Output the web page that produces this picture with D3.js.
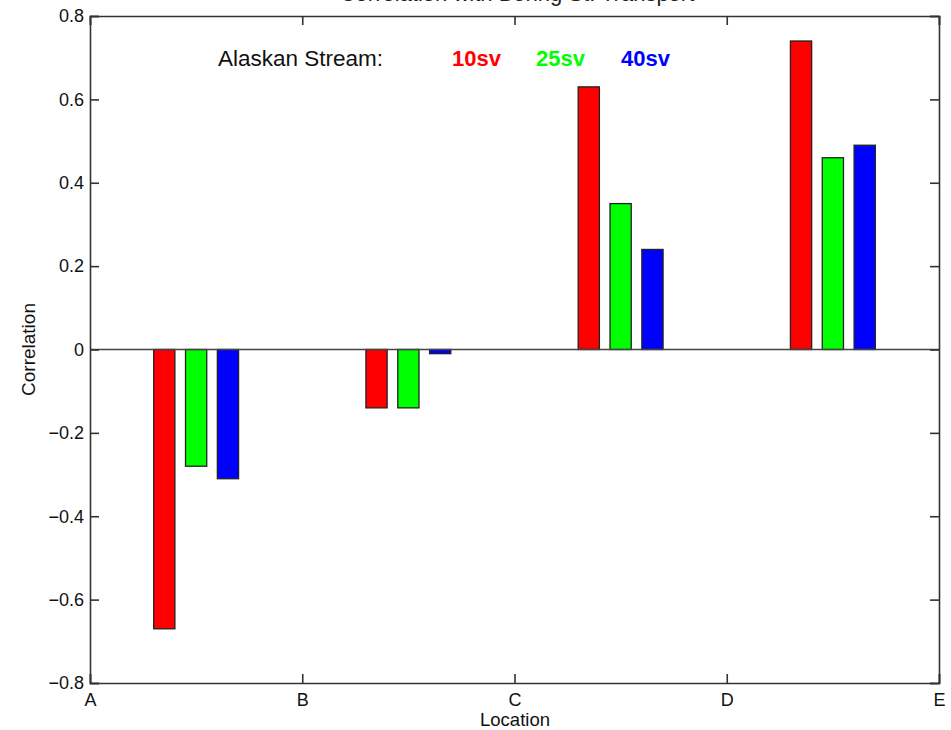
<!DOCTYPE html>
<html>
<head>
<meta charset="utf-8">
<script src="https://cdn.jsdelivr.net/npm/d3@7"></script>
<style>
  body { margin: 0; background: #fff; }
  svg { display: block; font-family: "Liberation Sans", Arial, Helvetica, sans-serif; }
</style>
</head>
<body>
<svg id="chart" width="951" height="730"></svg>
<script>
// Locations along the section and the tick labels on the x axis
const locations = ["A", "B", "C", "D", "E"];
// Bar groups sit between consecutive locations
const groupIndex = [0, 1, 2, 3];
// Correlation with Bering St. transport for each Alaskan Stream strength
const seriesNames = ["10sv", "25sv", "40sv"];
const values10sv = [-0.67, -0.14, 0.63, 0.74];
const values25sv = [-0.28, -0.14, 0.35, 0.46];
const values40sv = [-0.31, -0.01, 0.24, 0.49];
const seriesColors = ["#ff0000", "#00ff00", "#0000ff"];
const yTicks = [-0.8, -0.6, -0.4, -0.2, 0, 0.2, 0.4, 0.6, 0.8];

const series = [values10sv, values25sv, values40sv];
const offsets = [0.35, 0.5, 0.65];   // bar centres within each interval
const barWidth = 0.1;

const svg = d3.select("#chart");
const plotLeft = 90, plotRight = 939, plotTop = 16, plotBottom = 683;

const x = d3.scaleLinear().domain([0, 4]).range([plotLeft, plotRight]);
const y = d3.scaleLinear().domain([-0.8, 0.8]).range([plotBottom, plotTop]);

const fmt = v => v === 0 ? "0" : d3.format(".1f")(v).replace("-", "\u2212");

// Title (sits partly above the page edge)
svg.append("text")
  .attr("x", 517).attr("y", 1)
  .attr("text-anchor", "middle")
  .attr("font-size", 22)
  .attr("fill", "#222")
  .text("Correlation with Bering St. Transport");

// Bars
series.forEach((vals, si) => {
  svg.append("g").selectAll("rect")
    .data(groupIndex)
    .join("rect")
    .attr("x", i => x(i + offsets[si] - barWidth / 2))
    .attr("width", x(barWidth) - x(0))
    .attr("y", i => y(Math.max(0, vals[i])))
    .attr("height", i => Math.abs(y(vals[i]) - y(0)))
    .attr("fill", seriesColors[si])
    .attr("stroke", "#222")
    .attr("stroke-width", 1.3);
});

// Zero baseline
svg.append("line")
  .attr("x1", plotLeft).attr("x2", plotRight)
  .attr("y1", y(0)).attr("y2", y(0))
  .attr("stroke", "#444").attr("stroke-width", 1.6);

// Axes: ticks point inward, labels outside
const tickLen = 9;
const axisColor = "#333";

const yLeft = svg.append("g").attr("transform", `translate(${plotLeft},0)`)
  .call(d3.axisLeft(y).tickValues(yTicks).tickSize(-tickLen).tickPadding(6).tickFormat(fmt));
const yRight = svg.append("g").attr("transform", `translate(${plotRight},0)`)
  .call(d3.axisRight(y).tickValues(yTicks).tickSize(-tickLen).tickFormat(""));
const xBottom = svg.append("g").attr("transform", `translate(0,${plotBottom})`)
  .call(d3.axisBottom(x).tickValues([0, 1, 2, 3, 4]).tickSize(-tickLen).tickPadding(10)
    .tickFormat(i => locations[i]));
const xTop = svg.append("g").attr("transform", `translate(0,${plotTop})`)
  .call(d3.axisTop(x).tickValues([0, 1, 2, 3, 4]).tickSize(-tickLen).tickFormat(""));

[yLeft, yRight, xBottom, xTop].forEach(g => {
  g.select(".domain").attr("stroke", axisColor).attr("stroke-width", 1.6);
  g.selectAll(".tick line").attr("stroke", axisColor).attr("stroke-width", 1.6);
  g.selectAll(".tick text").attr("font-size", 18).attr("fill", "#111")
    .attr("font-family", "'Liberation Sans', Arial, sans-serif");
});

// Axis titles
svg.append("text")
  .attr("x", 515).attr("y", 726)
  .attr("text-anchor", "middle")
  .attr("font-size", 18.5).attr("fill", "#111")
  .text("Location");
svg.append("text")
  .attr("transform", `translate(35,${y(0)}) rotate(-90)`)
  .attr("text-anchor", "middle")
  .attr("font-size", 19).attr("fill", "#111")
  .text("Correlation");

// Legend line
const legend = svg.append("g");
legend.append("text")
  .attr("x", 218).attr("y", 66)
  .attr("font-size", 22.5).attr("fill", "#111")
  .text("Alaskan Stream:");
const legendX = [452, 536, 621];
seriesNames.forEach((name, i) => {
  legend.append("text")
    .attr("x", legendX[i]).attr("y", 66)
    .attr("font-size", 22).attr("font-weight", "bold")
    .attr("fill", seriesColors[i])
    .text(name);
});
</script>
</body>
</html>
